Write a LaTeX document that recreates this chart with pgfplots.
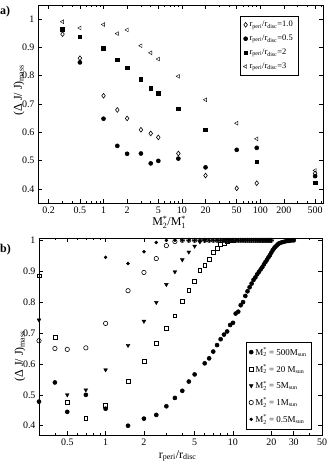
\documentclass[border=0pt]{standalone}
\usepackage{amsmath}
\usepackage{fontspec}
\setmainfont{Liberation Serif}
\usepackage{pgfplots}
\pgfplotsset{compat=1.18}
\newcommand\supsub[2]{$^{\text{#1}}_{\text{#2}}$}
\newcommand\rr{r\textsubscript{peri}/r\textsubscript{disc}}

\pgfplotsset{
  mypanel/.style={
    scale only axis, clip=false,
    tick align=inside, major tick length=4bp, minor tick length=2bp,
    tick style={black,line width=0.5pt},
    axis line style={line width=0.6pt},
    ticklabel style={font=\fontsize{10}{12}\selectfont},
    /pgf/number format/assume math mode=true,
    yticklabel style={/pgf/number format/fixed},
    ytick={0.4,0.5,0.6,0.7,0.8,0.9,1},
    label style={font=\fontsize{12}{14}\selectfont},
    legend cell align=left,
  },
  dots/.style={only marks,mark options={line width=0.6pt}},
}

\begin{document}
\begin{tikzpicture}
\useasboundingbox (0,0) rectangle (328bp,463bp);
\node[anchor=base west,inner sep=0,font=\bfseries\fontsize{12}{14}\selectfont] at (0bp,448bp) {a)};
\node[anchor=base west,inner sep=0,font=\bfseries\fontsize{12}{14}\selectfont] at (0bp,210bp) {b)};

% ---- panel a
\begin{semilogxaxis}[mypanel,
  at={(38bp,260bp)}, anchor=south west, width=285bp, height=198bp,
  xmin=0.146, xmax=630, ymin=0.35, ymax=1.05,
  xtick={0.2,0.5,1,2,5,10,20,50,100,200,500},
  xticklabels={0.2,0.5,1,2,5,10,20,50,100,200,500},
  minor xtick={0.3,0.4,0.6,0.7,0.8,0.9,3,4,6,7,8,9,30,40,60,70,80,90,300,400,600},
  xlabel={M\supsub{*}{2}/M\supsub{*}{1}},
  ylabel={(Δ J/ J)\textsubscript{mass}},
  xlabel style={at={(axis description cs:0.46,0)},anchor=north,yshift=-13bp,inner sep=0},
  ylabel style={at={(axis description cs:-0.067,0.57)},anchor=center},
  legend style={at={(0.912,0.944)},anchor=north east,draw=black,
    font=\fontsize{8.5}{10}\selectfont,row sep=2.8pt,inner sep=3pt},
]
\addplot[dots,mark=diamond,mark size=2.4pt] coordinates {
 (0.3,0.947) (0.5,0.862) (1,0.729) (1.5,0.679) (2,0.649) (3,0.609) (4,0.596)
 (5,0.582) (9,0.525) (20,0.447) (50,0.402) (90,0.420) (500,0.455)};
\addplot[dots,mark=*,mark size=2pt] coordinates {
 (0.5,0.847) (1,0.648) (1.5,0.552) (2,0.524) (3,0.525) (4,0.490) (5,0.499)
 (9,0.507) (20,0.476) (50,0.538) (90,0.545) (500,0.445)};
\addplot[dots,mark=square*,mark size=1.8pt] coordinates {
 (0.3,0.965) (0.5,0.938) (1,0.896) (1.5,0.857) (2,0.828) (3,0.788) (4,0.756)
 (5,0.738) (9,0.683) (20,0.609) (90,0.496) (500,0.421)};
\addplot[dots,mark=triangle,mark size=2.2pt,mark options={rotate=90}] coordinates {
 (0.3,0.991) (0.5,0.969) (1,0.981) (1.5,0.949) (2,0.962) (3,0.906) (4,0.881)
 (5,0.859) (9,0.798) (20,0.715) (50,0.632) (90,0.577) (500,0.465)};
\legend{\rr=1.0,\rr=0.5,\rr=2,\rr=3}
\end{semilogxaxis}

% ---- panel b
\begin{semilogxaxis}[mypanel,
  at={(39bp,28bp)}, anchor=south west, width=283bp, height=197bp,
  xmin=0.3, xmax=50, ymin=0.37, ymax=1.0075,
  xtick={0.5,1,2,5,10,20,30,50},
  xticklabels={0.5,1,2,5,10,20,30,50},
  minor xtick={0.4,0.6,0.7,0.8,0.9,3,4,6,7,8,9,40},
  xlabel={r\textsubscript{peri}/r\textsubscript{disc}},
  ylabel={(Δ J/ J)\textsubscript{mass}},
  xlabel style={at={(axis description cs:0.49,0)},anchor=north,yshift=-15bp,inner sep=0},
  ylabel style={at={(axis description cs:-0.067,0.40)},anchor=center},
  legend style={at={(0.964,0.03)},anchor=south east,draw=black,
    font=\fontsize{9}{10.5}\selectfont,row sep=3.6pt,inner sep=3pt},
]
\addplot[dots,mark=*,mark size=2pt] coordinates {
 (0.3,0.478) (0.4,0.540) (0.5,0.445) (0.7,0.500) (1,0.455)
 (1.5,0.400) (2,0.423) (2.5,0.435) (3,0.463) (3.5,0.490) (4,0.513) (4.5,0.543)
 (5,0.566) (6,0.602) (6.5,0.618) (7,0.640) (7.5,0.661) (8,0.680) (8.5,0.695)
 (9,0.705) (9.5,0.726) (10,0.733) (10.5,0.763) (11,0.769) (11.5,0.790) (12,0.800)
 (12.5,0.820) (13,0.835) (13.5,0.848) (14,0.860) (14.5,0.872) (15,0.880)
 (15.5,0.890) (16,0.898) (16.5,0.906) (17,0.913) (17.5,0.922) (18,0.930)
 (18.5,0.937) (19,0.945) (19.5,0.952) (20,0.960) (20.5,0.968) (21,0.974)
 (21.5,0.979) (22,0.983) (22.5,0.987) (23,0.990) (24,0.993) (25,0.995)
 (26,0.997) (27,0.998) (28,0.999) (29,1.0) (30,1.0)};
\addplot[dots,mark=square,mark size=1.9pt] coordinates {
 (0.3,0.885) (0.4,0.686) (0.5,0.476) (0.7,0.425) (1,0.465) (1.5,0.545) (2,0.608)
 (2.5,0.667) (3,0.715) (3.5,0.756) (4,0.802) (4.5,0.839) (5,0.868) (5.5,0.903)
 (6,0.919) (6.5,0.938) (7,0.962) (7.5,0.974) (8,0.987) (8.5,0.991) (9,0.996)
 (9.5,1.0) (10,1.0)};
\addplot[dots,mark=triangle*,mark size=2.2pt,mark options={rotate=180}] coordinates {
 (0.3,0.742) (0.5,0.500) (0.7,0.516) (1,0.581) (1.5,0.660) (2,0.738) (2.5,0.799)
 (3,0.857) (3.5,0.898) (4,0.937) (4.5,0.962) (5,0.981) (5.5,0.995) (6,1.0)};
\addplot[dots,mark=o,mark size=2.2pt] coordinates {
 (0.3,0.675) (0.4,0.650) (0.5,0.647) (0.7,0.652) (1,0.731) (1.5,0.837) (2,0.896)
 (2.5,0.941) (3,0.983) (3.5,0.996) (4,1.0) (4.5,1.0) (5,1.0) (5.5,1.0) (6,1.0)
 (6.5,1.0) (7,1.0) (7.5,1.0) (8,1.0) (8.5,1.0) (9,1.0) (9.5,1.0) (10,1.0)
 (10.5,1.0) (11,1.0) (11.5,1.0) (12,1.0) (12.5,1.0) (13,1.0) (13.5,1.0) (14,1.0)
 (14.5,1.0) (15,1.0) (15.5,1.0) (16,1.0) (16.5,1.0) (17,1.0) (17.5,1.0) (18,1.0)
 (18.5,1.0) (19,1.0) (19.5,1.0) (20,1.0)};
\addplot[dots,mark=*,mark size=1.4pt] coordinates {
 (1,0.945) (1.5,0.925) (2,0.963) (2.5,0.993) (3,1.0) (3.5,1.0) (4,1.0) (4.5,1.0)
 (5,1.0) (5.5,1.0) (6,1.0) (6.5,1.0) (7,1.0) (7.5,1.0) (8,1.0) (8.5,1.0) (9,1.0)
 (9.5,1.0) (10,1.0) (10.5,1.0) (11,1.0) (11.5,1.0) (12,1.0) (12.5,1.0) (13,1.0)
 (13.5,1.0) (14,1.0) (14.5,1.0) (15,1.0) (15.5,1.0) (16,1.0) (16.5,1.0) (17,1.0)
 (17.5,1.0) (18,1.0) (18.5,1.0) (19,1.0) (19.5,1.0) (20,1.0)};
\legend{M\supsub{*}{2} = 500M\textsubscript{sun},
        M\supsub{*}{2} = 20 M\textsubscript{sun},
        M\supsub{*}{2} = 5M\textsubscript{sun},
        M\supsub{*}{2} = 1M\textsubscript{sun},
        M\supsub{*}{2} = 0.5M\textsubscript{sun}}
\end{semilogxaxis}
\end{tikzpicture}
\end{document}
